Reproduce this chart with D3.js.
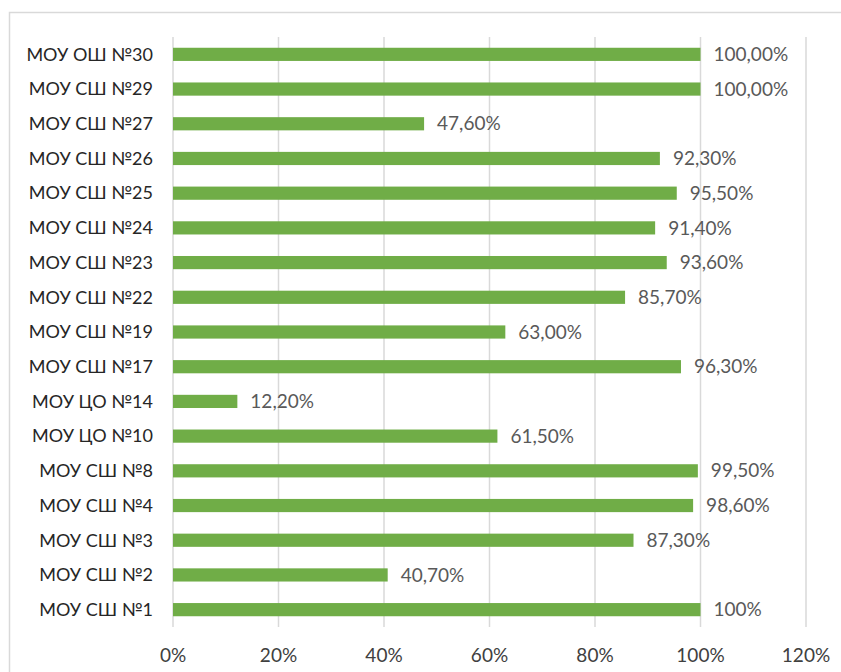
<!DOCTYPE html>
<html>
<head>
<meta charset="utf-8">
<script src="https://cdn.jsdelivr.net/npm/d3@7"></script>
<style>
  body { margin: 0; background: #fff; }
  svg { display: block; font-family: Lato, "Open Sans", sans-serif; }
</style>
</head>
<body>
<svg id="chart" width="841" height="672"></svg>
<script>
// schools, top to bottom
const schools = ["МОУ ОШ №30", "МОУ СШ №29", "МОУ СШ №27", "МОУ СШ №26", "МОУ СШ №25",
  "МОУ СШ №24", "МОУ СШ №23", "МОУ СШ №22", "МОУ СШ №19", "МОУ СШ №17",
  "МОУ ЦО №14", "МОУ ЦО №10", "МОУ СШ №8", "МОУ СШ №4", "МОУ СШ №3",
  "МОУ СШ №2", "МОУ СШ №1"];
const values = [100, 100, 47.6, 92.3, 95.5, 91.4, 93.6, 85.7, 63.0, 96.3,
  12.2, 61.5, 99.5, 98.6, 87.3, 40.7, 100];
const valueLabels = ["100,00%", "100,00%", "47,60%", "92,30%", "95,50%", "91,40%",
  "93,60%", "85,70%", "63,00%", "96,30%", "12,20%", "61,50%", "99,50%", "98,60%",
  "87,30%", "40,70%", "100%"];
const ticks = [0, 20, 40, 60, 80, 100, 120];

const svg = d3.select("#chart");

// outer chart border (right/bottom run off the picture)
svg.append("rect")
  .attr("x", 9.5).attr("y", 12.5)
  .attr("width", 900).attr("height", 700)
  .attr("fill", "none")
  .attr("stroke", "#d9d9d9")
  .attr("stroke-width", 1.5);

const x = d3.scaleLinear().domain([0, 120]).range([173, 806]);
const y = d3.scaleBand().domain(schools).range([37, 627]).paddingInner(0.62).paddingOuter(0.31);

const data = schools.map((s, i) => ({ name: s, val: values[i], label: valueLabels[i] }));

// gridlines
svg.append("g")
  .selectAll("line")
  .data(ticks)
  .enter()
  .append("line")
  .attr("x1", d => x(d)).attr("x2", d => x(d))
  .attr("y1", 37).attr("y2", 627)
  .attr("stroke", "#d9d9d9")
  .attr("stroke-width", 1.5);

// tick labels
svg.append("g")
  .selectAll("text")
  .data(ticks)
  .enter()
  .append("text")
  .attr("x", d => x(d))
  .attr("y", 655)
  .attr("dy", "0.35em")
  .attr("text-anchor", "middle")
  .attr("fill", "#404040")
  .style("font-size", "19px")
  .text(d => d + "%");

// bars
svg.append("g")
  .selectAll("rect")
  .data(data)
  .enter()
  .append("rect")
  .attr("x", x(0))
  .attr("y", d => y(d.name))
  .attr("width", d => x(d.val) - x(0))
  .attr("height", y.bandwidth())
  .attr("fill", "#70ad47");

// category labels
svg.append("g")
  .selectAll("text")
  .data(data)
  .enter()
  .append("text")
  .attr("x", 153)
  .attr("y", d => y(d.name) + y.bandwidth() / 2)
  .attr("dy", "0.35em")
  .attr("text-anchor", "end")
  .attr("fill", "#262626")
  .style("font-size", "18px")
  .text(d => d.name);

// value labels
svg.append("g")
  .selectAll("text")
  .data(data)
  .enter()
  .append("text")
  .attr("x", d => x(d.val) + 13)
  .attr("y", d => y(d.name) + y.bandwidth() / 2)
  .attr("dy", "0.35em")
  .attr("fill", "#595959")
  .style("font-size", "19px")
  .text(d => d.label);
</script>
</body>
</html>
